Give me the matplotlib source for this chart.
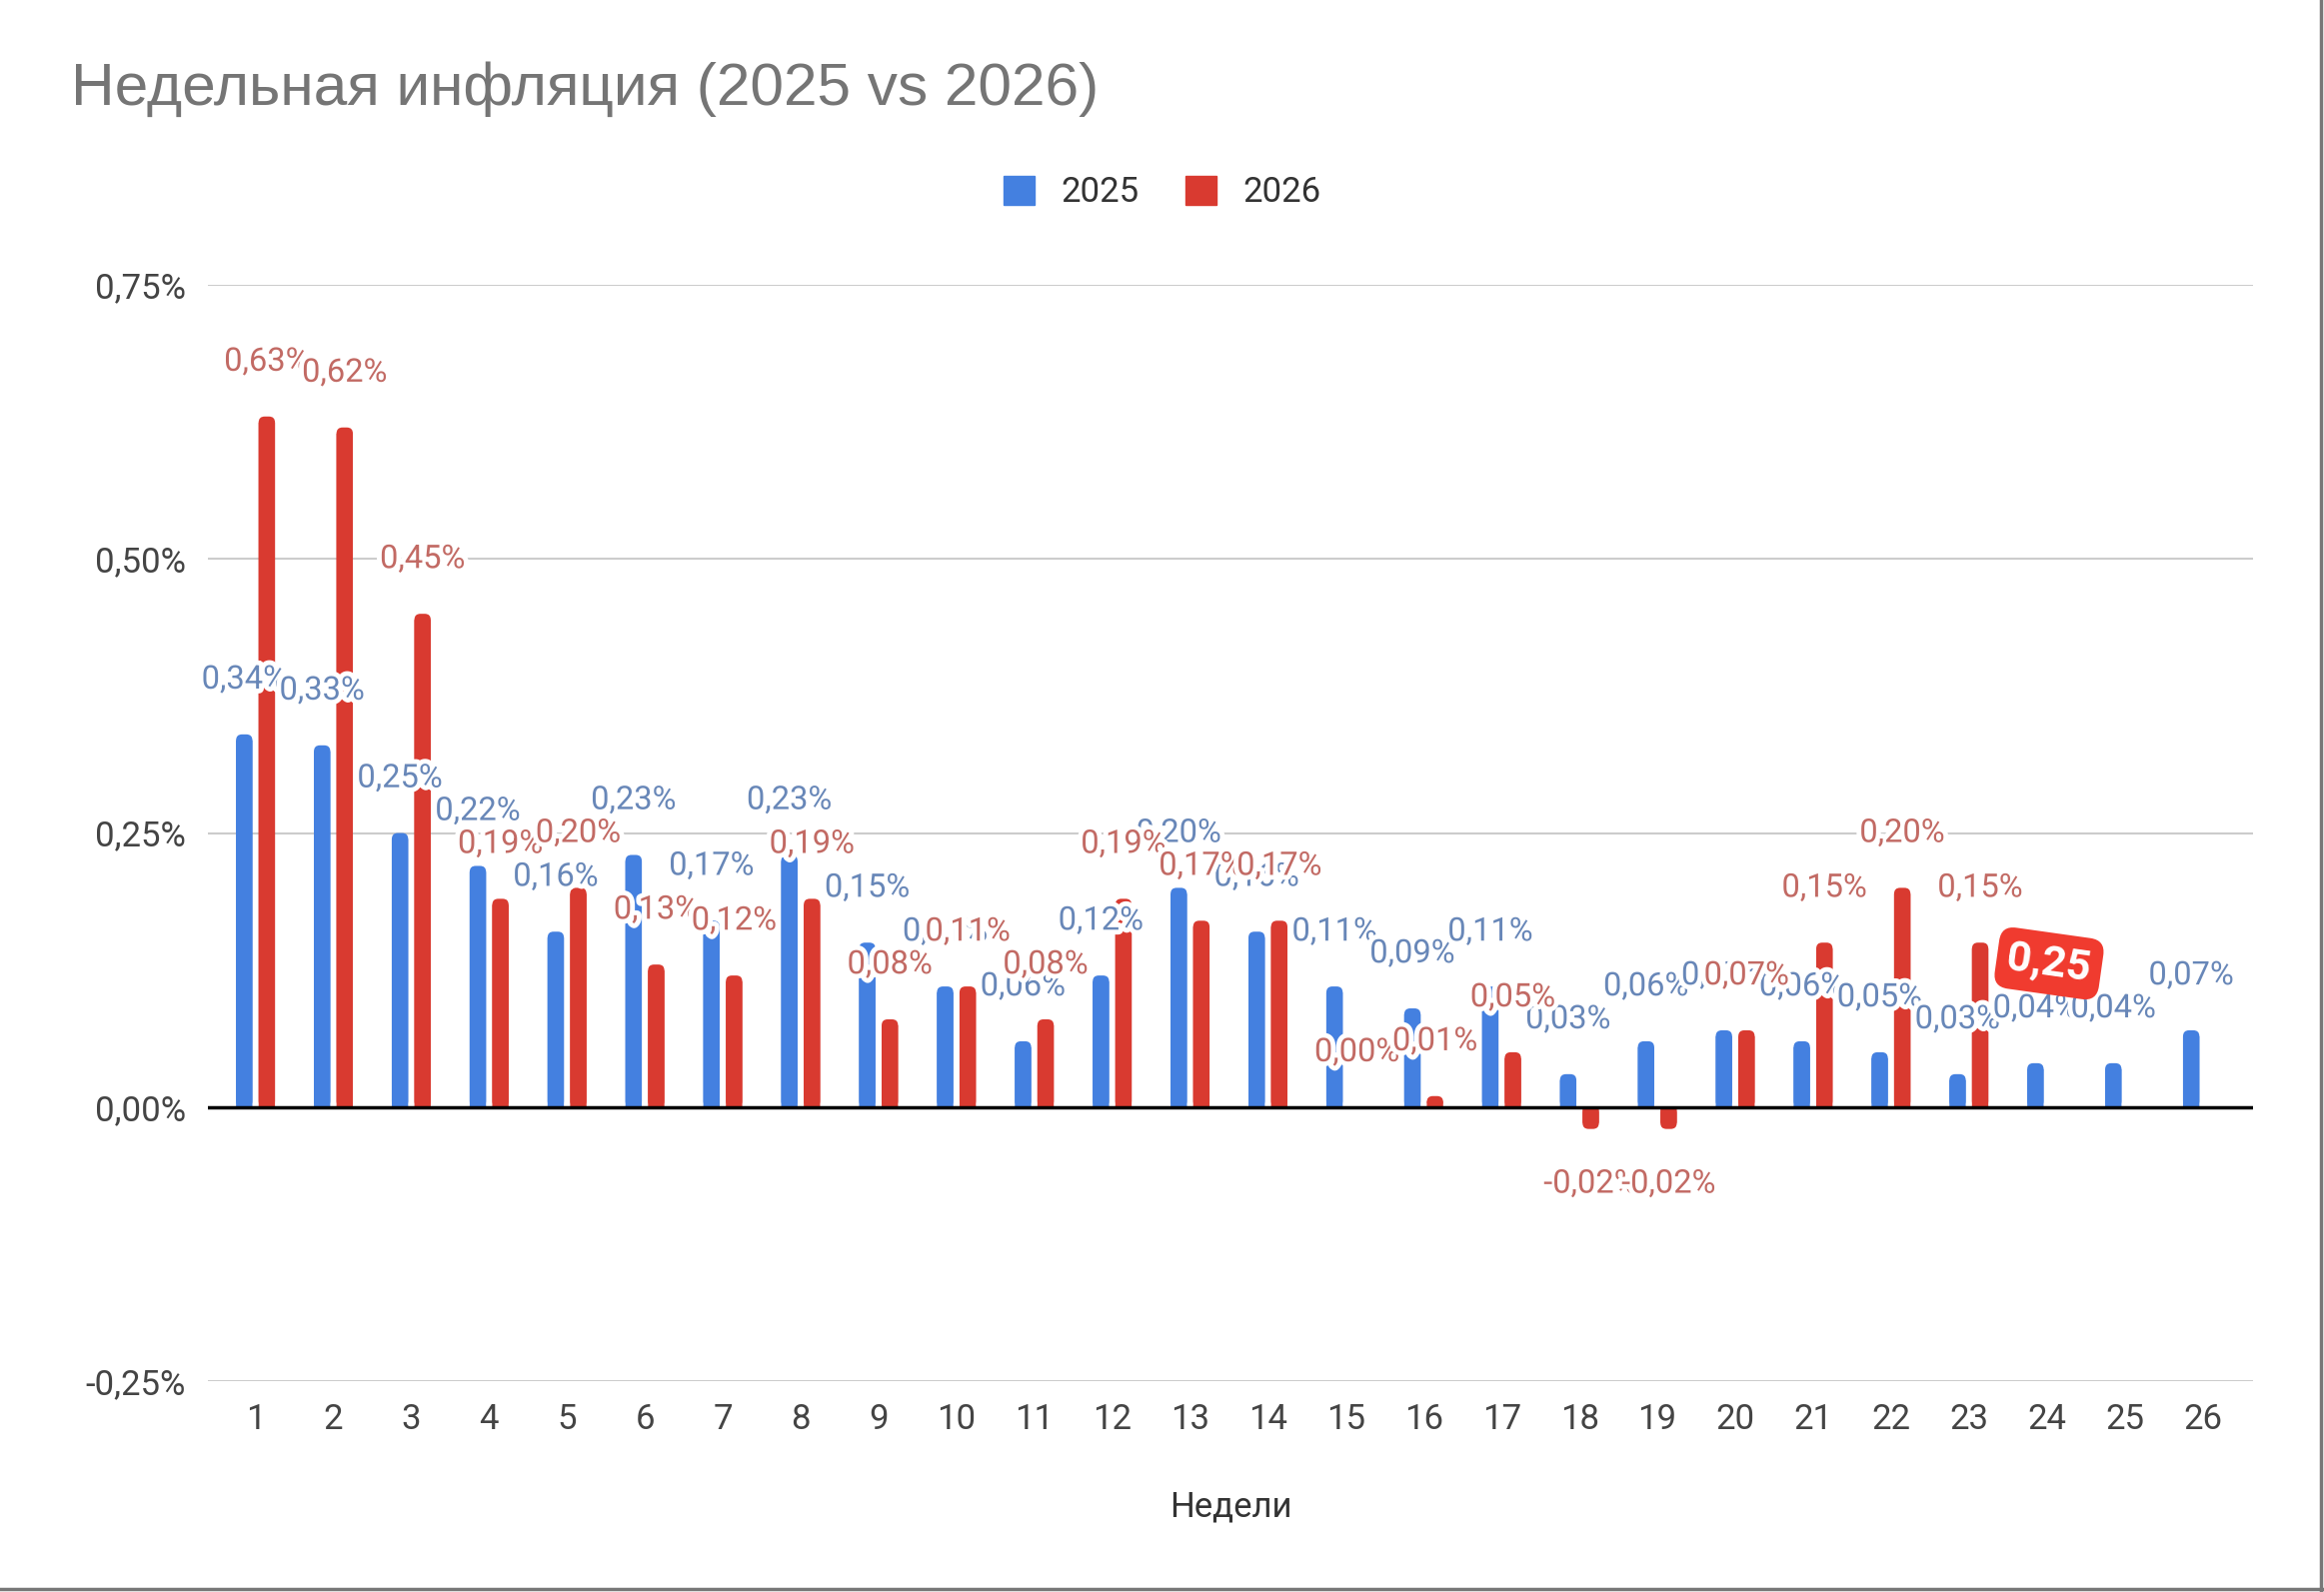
import numpy as np
import matplotlib
matplotlib.use("Agg")
import matplotlib.pyplot as plt
import matplotlib.patheffects as pe
from matplotlib.patches import Patch, FancyBboxPatch, Rectangle
from matplotlib.lines import Line2D

# weekly inflation, %
weeks = list(range(1, 27))
infl_2025 = [0.34, 0.33, 0.25, 0.22, 0.16, 0.23, 0.17, 0.23, 0.15, 0.11, 0.06, 0.12, 0.20,
             0.16, 0.11, 0.09, 0.11, 0.03, 0.06, 0.07, 0.06, 0.05, 0.03, 0.04, 0.04, 0.07]
infl_2026 = [0.63, 0.62, 0.45, 0.19, 0.20, 0.13, 0.12, 0.19, 0.08, 0.11, 0.08, 0.19, 0.17,
             0.17, 0.00, 0.01, 0.05, -0.02, -0.02, 0.07, 0.15, 0.20, 0.15, np.nan, np.nan, np.nan]
yticks = [-0.25, 0.0, 0.25, 0.50, 0.75]
series_names = ["2025", "2026"]

blue = "#4480e0"
red = "#d93a30"
blue_txt = "#6887b8"
red_txt = "#c26a64"

plt.rcParams['font.family'] = ['Roboto', 'DejaVu Sans']


def fmt(v):
    return f"{v:.2f}".replace(".", ",") + "%"


fig = plt.figure(figsize=(23.25, 15.93), dpi=100)
ax = fig.add_axes([0.0895, 0.1325, 0.88, 0.6885])
ax.set_ylim(-0.25, 0.75)
ax.set_xlim(0.39, 26.65)

x = np.array(weeks, dtype=float)
w = 0.21
off = 0.145
bars_a = ax.bar(x - off, infl_2025, width=w, color=blue, zorder=2)
bars_b = ax.bar(x + off, infl_2026, width=w, color=red, zorder=2)


# rounded end (away from zero), square at the baseline, like google charts
def round_tops(bars, color):
    px_x = 2046 / 26.26
    px_y = 1097 / 1.0
    r = 6.0 / px_x
    ry = 6.0 / px_y
    for b in bars:
        h = b.get_height()
        if np.isnan(h) or h == 0:
            continue
        b.set_visible(False)
        x0, wd = b.get_x(), b.get_width()
        ax.add_patch(FancyBboxPatch((x0, min(0, h)), wd, abs(h),
                                    boxstyle=f"round,pad=0,rounding_size={r}",
                                    mutation_aspect=px_x / px_y,
                                    fc=color, ec="none", zorder=2, snap=False))
        body = max(abs(h) - ry, abs(h) / 2)
        ax.add_patch(Rectangle((x0, 0), wd, np.sign(h) * body, fc=color, ec="none",
                               zorder=2, snap=False))


round_tops(bars_a, blue)
round_tops(bars_b, red)

halo = [pe.withStroke(linewidth=7, foreground="white")]
for xi, v in zip(x - off, infl_2025):
    ax.text(xi, v + 0.05, fmt(v), ha="center", va="center", fontsize=23.5,
            color=blue_txt, path_effects=halo, zorder=3)
for xi, v in zip(x + off, infl_2026):
    if np.isnan(v):
        continue
    yy = v + 0.05 if v >= 0 else v - 0.05
    ax.text(xi, yy, fmt(v), ha="center", va="center", fontsize=23.5,
            color=red_txt, path_effects=halo, zorder=4)

ax.axhline(0, color="black", lw=2.5, zorder=2.5)

ax.set_yticks(yticks)
ax.set_yticklabels([fmt(t) for t in yticks])
ax.set_xticks(weeks)
ax.set_xticklabels([str(wk) for wk in weeks])
ax.tick_params(length=0, labelsize=25, labelcolor="#444444", pad=16)
ax.grid(axis="y", color="#cccccc", lw=1.5, zorder=0)
ax.set_axisbelow(True)
for s in ax.spines.values():
    s.set_visible(False)

ax.set_xlabel("Недели", fontsize=25, color="#333333")
ax.xaxis.set_label_coords(0.5, -0.1)

fig.text(0.0306, 0.944, "Недельная инфляция (2025 vs 2026)", fontsize=43.5,
         color="#757575", family=["Liberation Sans", "DejaVu Sans"], va="center", ha="left")

handles = [Patch(facecolor=blue, edgecolor=blue), Patch(facecolor=red, edgecolor=red)]
fig.legend(handles, series_names, loc="center", bbox_to_anchor=(0.5, 0.879), ncol=2,
           frameon=False, fontsize=25, handlelength=0.9, handleheight=0.9,
           handletextpad=0.75, columnspacing=1.35, labelcolor="#333333")

# red sticker on top of the screenshot
ax.text(24.03, 0.131, "0,25", rotation=-8, ha="center", va="center", fontsize=31,
        fontweight="bold", color="white", zorder=6,
        bbox=dict(boxstyle="round,pad=0.24,rounding_size=0.35", fc="#f03b2f", ec="none"))

# screenshot border right / bottom
fig.add_artist(Line2D([0.9985, 0.9985], [0, 1], transform=fig.transFigure, color="#777777", lw=2.5))
fig.add_artist(Line2D([0, 1], [0.002, 0.002], transform=fig.transFigure, color="#777777", lw=2.5))

fig.savefig("out.png", dpi=100, facecolor="white")
